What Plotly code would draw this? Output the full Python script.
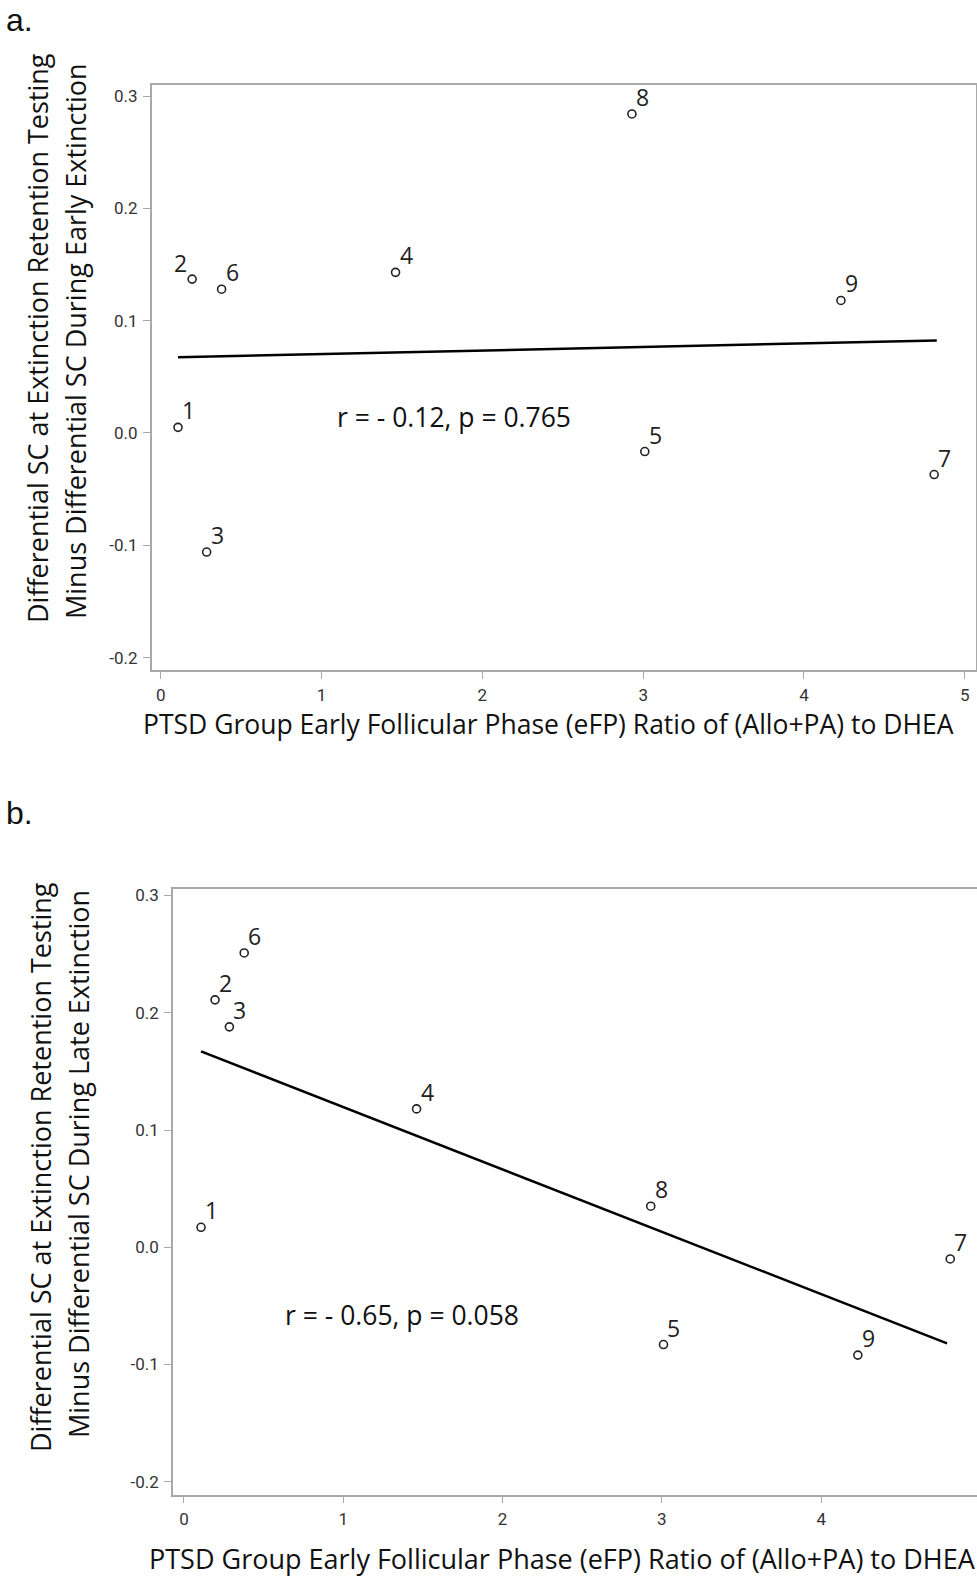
import plotly.graph_objects as go

W, H = 977, 1576

# ---- data ----
ids = ["1", "2", "3", "4", "5", "6", "7", "8", "9"]
ratio_x = [0.107, 0.195, 0.285, 1.46, 3.01, 0.378, 4.81, 2.93, 4.23]
early_y = [0.005, 0.137, -0.106, 0.143, -0.0165, 0.128, -0.037, 0.284, 0.118]
late_y = [0.017, 0.211, 0.188, 0.118, -0.083, 0.251, -0.010, 0.035, -0.092]

fit_a_x = [0.107, 4.826]
fit_a_y = [0.0675, 0.0823]
fit_b_x = [0.107, 4.79]
fit_b_y = [0.167, -0.082]

x_ticks = [0, 1, 2, 3, 4, 5]
y_ticks = [-0.2, -0.1, 0.0, 0.1, 0.2, 0.3]
y_tick_text = ["-0.2", "-0.1", "0.0", "0.1", "0.2", "0.3"]

stat_a = "r = - 0.12, p = 0.765"
stat_b = "r = - 0.65, p = 0.058"
xtitle = "PTSD Group Early Follicular Phase (eFP) Ratio of (Allo+PA) to DHEA"
ytitle_a = ["Differential SC at Extinction Retention Testing",
            "Minus Differential SC During Early Extinction"]
ytitle_b = ["Differential SC at Extinction Retention Testing",
            "Minus Differential SC During Late Extinction"]

# ---- styling ----
TXT = "Open Sans, Noto Sans, sans-serif"
TICKF = "Liberation Sans Narrow, Arial Narrow, Roboto, sans-serif"
FRAME = "#a9a9a9"
TS = 26.5
YS = 27


def px_x(p):
    return p / W


def px_y(p):
    return 1 - p / H


fig = go.Figure()

# panel a
fig.add_trace(go.Scatter(x=fit_a_x, y=fit_a_y, mode="lines",
                         line=dict(color="black", width=2.5),
                         xaxis="x", yaxis="y", showlegend=False))
fig.add_trace(go.Scatter(x=ratio_x, y=early_y, mode="markers",
                         marker=dict(symbol="circle-open", size=8,
                                     line=dict(color="#222", width=1.6), color="#222"),
                         xaxis="x", yaxis="y", showlegend=False))
# panel b
fig.add_trace(go.Scatter(x=fit_b_x, y=fit_b_y, mode="lines",
                         line=dict(color="black", width=2.5),
                         xaxis="x2", yaxis="y2", showlegend=False))
fig.add_trace(go.Scatter(x=ratio_x, y=late_y, mode="markers",
                         marker=dict(symbol="circle-open", size=8,
                                     line=dict(color="#222", width=1.6), color="#222"),
                         xaxis="x2", yaxis="y2", showlegend=False))

annotations = []
# point labels
for i, (xv, yv) in enumerate(zip(ratio_x, early_y)):
    left = ids[i] == "2"
    annotations.append(dict(x=xv, y=yv, xref="x", yref="y", text=ids[i],
                            showarrow=False,
                            xanchor="right" if left else "left", yanchor="bottom",
                            xshift=-3 if left else 2, yshift=-2 if left else -1,
                            font=dict(family=TXT, size=23, color="#222")))
for i, (xv, yv) in enumerate(zip(ratio_x, late_y)):
    annotations.append(dict(x=xv, y=yv, xref="x2", yref="y2", text=ids[i],
                            showarrow=False, xanchor="left", yanchor="bottom",
                            xshift=2, yshift=-1,
                            font=dict(family=TXT, size=23, color="#222")))

# stats
annotations.append(dict(x=px_x(454), y=px_y(417), xref="paper", yref="paper",
                        text=stat_a, showarrow=False, xanchor="center", yanchor="middle",
                        font=dict(family=TXT, size=TS, color="#111")))
annotations.append(dict(x=px_x(402), y=px_y(1315), xref="paper", yref="paper",
                        text=stat_b, showarrow=False, xanchor="center", yanchor="middle",
                        font=dict(family=TXT, size=TS, color="#111")))

# panel letters
annotations.append(dict(x=px_x(4), y=px_y(20), xref="paper", yref="paper", text="a.",
                        showarrow=False, xanchor="left", yanchor="middle",
                        font=dict(family="Liberation Sans, Arial, sans-serif", size=32, color="#111")))
annotations.append(dict(x=px_x(4), y=px_y(813), xref="paper", yref="paper", text="b.",
                        showarrow=False, xanchor="left", yanchor="middle",
                        font=dict(family="Liberation Sans, Arial, sans-serif", size=32, color="#111")))

# axis titles
annotations.append(dict(x=px_x(548), y=px_y(724), xref="paper", yref="paper", text=xtitle,
                        showarrow=False, xanchor="center", yanchor="middle",
                        font=dict(family=TXT, size=TS, color="#111")))
annotations.append(dict(x=px_x(562), y=px_y(1558), xref="paper", yref="paper", text=xtitle,
                        showarrow=False, xanchor="center", yanchor="middle",
                        font=dict(family=TXT, size=27, color="#111")))
for cx, cy, t in [(37, 338, ytitle_a[0]), (75, 341, ytitle_a[1]),
                  (40, 1167, ytitle_b[0]), (78, 1164, ytitle_b[1])]:
    annotations.append(dict(x=px_x(cx), y=px_y(cy), xref="paper", yref="paper", text=t,
                            showarrow=False, textangle=-90, xanchor="center", yanchor="middle",
                            font=dict(family=TXT, size=YS, color="#111")))

axis_common = dict(showgrid=False, zeroline=False, showline=True, linecolor=FRAME,
                   linewidth=1.5, ticks="outside", ticklen=7, tickcolor=FRAME,
                   tickwidth=1.2, automargin=False,
                   tickfont=dict(family=TICKF, size=17, color="#333"))

fig.update_layout(
    width=W, height=H,
    margin=dict(l=0, r=0, t=0, b=0, pad=0),
    paper_bgcolor="white", plot_bgcolor="white",
    showlegend=False,
    xaxis=dict(domain=[px_x(151.7), px_x(976)], range=[-0.0566, 5.07],
               tickvals=x_ticks, ticktext=[str(v) for v in x_ticks], mirror=True,
               anchor="y", ticklabelstandoff=2, **axis_common),
    yaxis=dict(domain=[px_y(670), px_y(85)], range=[-0.211, 0.3098],
               tickvals=y_ticks, ticktext=y_tick_text, mirror=True,
               anchor="x", ticklabelstandoff=2, **axis_common),
    xaxis2=dict(domain=[px_x(173), 1.0], range=[-0.069, 4.978],
                tickvals=x_ticks, ticktext=[str(v) for v in x_ticks], mirror=True,
                anchor="y2", ticklabelstandoff=1, **axis_common),
    yaxis2=dict(domain=[px_y(1494.6), px_y(888.5)], range=[-0.211, 0.306],
                tickvals=y_ticks, ticktext=y_tick_text, mirror=False,
                anchor="x2", ticklabelstandoff=2, **axis_common),
    annotations=annotations,
)

fig.write_html(
    "out.html",
    config={"displayModeBar": False},
    post_script="document.body.style.margin='0';document.body.style.overflow='hidden';"
                "document.documentElement.style.overflow='hidden';",
)
